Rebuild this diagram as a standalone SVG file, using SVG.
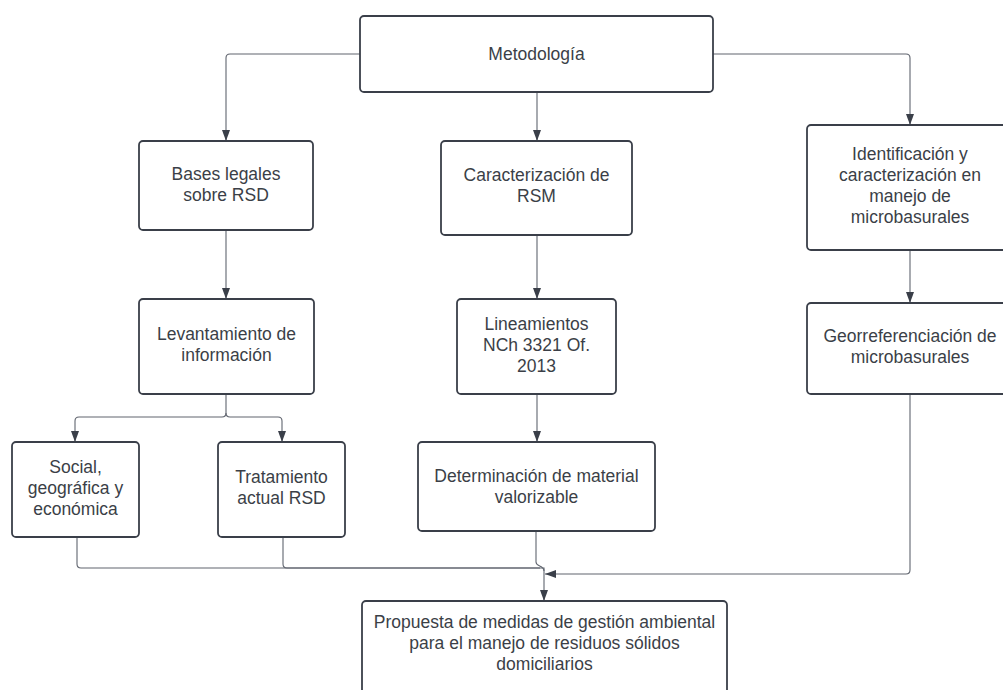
<svg xmlns="http://www.w3.org/2000/svg" width="1003" height="690" viewBox="0 0 1003 690">
<defs>
<marker id="arr" viewBox="0 0 11 8" markerWidth="11" markerHeight="8" refX="11" refY="4" orient="auto" markerUnits="userSpaceOnUse">
<path d="M0,0 L11,4 L0,8 z" fill="#3a3f49"/>
</marker>
<style>
.box{fill:#ffffff;stroke:#3a3f49;stroke-width:1.8}
.t{font-family:"Liberation Sans",Arial,sans-serif;font-size:17.5px;fill:#3b3f47;text-anchor:middle}
.c{fill:none;stroke:#60656f;stroke-width:1.1}
</style>
</defs>
<rect width="1003" height="690" fill="#ffffff"/>
<g id="connectors">
<path class="c" d="M360,54 H230 Q226,54 226,58 V141" marker-end="url(#arr)"/>
<path class="c" d="M537,92 V141" marker-end="url(#arr)"/>
<path class="c" d="M713,54 H906 Q910,54 910,58 V125" marker-end="url(#arr)"/>
<path class="c" d="M226,230 V299" marker-end="url(#arr)"/>
<path class="c" d="M537,235 V299" marker-end="url(#arr)"/>
<path class="c" d="M910,250 V303" marker-end="url(#arr)"/>
<path class="c" d="M226,394 V413 Q226,417 222,417 H79 Q75,417 75,421 V442" marker-end="url(#arr)"/>
<path class="c" d="M226,413 Q226,417 230,417 H278 Q282,417 282,421 V442" marker-end="url(#arr)"/>
<path class="c" d="M537,394 V442" marker-end="url(#arr)"/>
<path class="c" d="M77,537 V564 Q77,568 81,568 H544 V601" marker-end="url(#arr)"/>
<path class="c" d="M283,537 V564 Q283,568 287,568 H540"/>
<path class="c" d="M536,531 V562 C536,567 544,565 544,571"/>
<path class="c" d="M910,394 V570 Q910,574 906,574 H545" marker-end="url(#arr)"/>
</g>
<g id="metodologia">
<rect class="box" x="360" y="16" width="353" height="76" rx="4"/>
<text class="t" x="536.5" y="60">Metodología</text>
</g>
<g id="bases">
<rect class="box" x="139" y="141" width="174" height="89" rx="4"/>
<text class="t" x="226" y="180">Bases legales</text>
<text class="t" x="226" y="201">sobre RSD</text>
</g>
<g id="caracterizacion">
<rect class="box" x="441" y="141" width="191" height="94" rx="4"/>
<text class="t" x="536.5" y="181">Caracterización de</text>
<text class="t" x="536.5" y="202">RSM</text>
</g>
<g id="identificacion">
<rect class="box" x="807" y="125" width="206" height="125" rx="4"/>
<text class="t" x="910" y="160">Identificación y</text>
<text class="t" x="910" y="181">caracterización en</text>
<text class="t" x="910" y="202">manejo de</text>
<text class="t" x="910" y="223">microbasurales</text>
</g>
<g id="levantamiento">
<rect class="box" x="139" y="299" width="175" height="95" rx="4"/>
<text class="t" x="226.5" y="340">Levantamiento de</text>
<text class="t" x="226.5" y="361">información</text>
</g>
<g id="lineamientos">
<rect class="box" x="457" y="299" width="159" height="95" rx="4"/>
<text class="t" x="536.5" y="330">Lineamientos</text>
<text class="t" x="536.5" y="351">NCh 3321 Of.</text>
<text class="t" x="536.5" y="372">2013</text>
</g>
<g id="georreferenciacion">
<rect class="box" x="807" y="303" width="206" height="91" rx="4"/>
<text class="t" x="910" y="342">Georreferenciación de</text>
<text class="t" x="910" y="363">microbasurales</text>
</g>
<g id="social">
<rect class="box" x="12" y="442" width="127" height="95" rx="4"/>
<text class="t" x="75.5" y="473">Social,</text>
<text class="t" x="75.5" y="494">geográfica y</text>
<text class="t" x="75.5" y="515">económica</text>
</g>
<g id="tratamiento">
<rect class="box" x="218" y="442" width="127" height="95" rx="4"/>
<text class="t" x="281.5" y="483">Tratamiento</text>
<text class="t" x="281.5" y="504">actual RSD</text>
</g>
<g id="determinacion">
<rect class="box" x="418" y="442" width="237" height="89" rx="4"/>
<text class="t" x="536.5" y="482">Determinación de material</text>
<text class="t" x="536.5" y="503">valorizable</text>
</g>
<g id="propuesta">
<rect class="box" x="362" y="601" width="365" height="110" rx="4"/>
<text class="t" x="544.5" y="628">Propuesta de medidas de gestión ambiental</text>
<text class="t" x="544.5" y="649">para el manejo de residuos sólidos</text>
<text class="t" x="544.5" y="670">domiciliarios</text>
</g>
</svg>
